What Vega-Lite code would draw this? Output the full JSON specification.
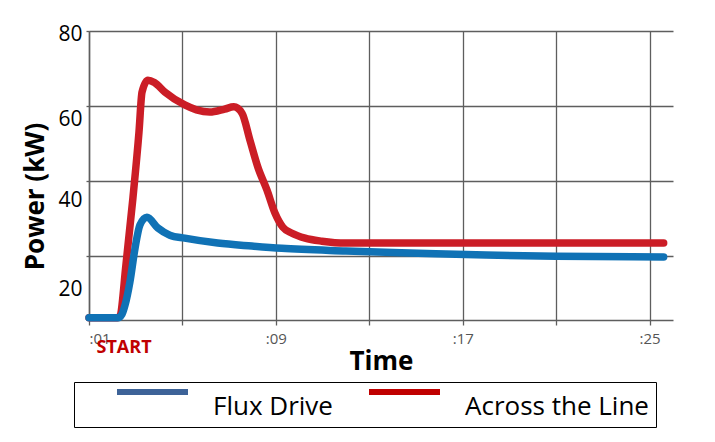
{
  "$schema": "https://vega.github.io/schema/vega-lite/v6.json",
  "width": 584,
  "height": 289,
  "autosize": "none",
  "padding": {"left": 89, "top": 31, "right": 42, "bottom": 122},
  "background": "white",
  "config": {
    "view": {"stroke": null},
    "font": "Open Sans"
  },
  "datasets": {
    "power": [
      {"time": 1, "kw": 3.6, "series": "Across the Line"},
      {"time": 2.2, "kw": 3.6, "series": "Across the Line"},
      {"time": 2.33, "kw": 4.2, "series": "Across the Line"},
      {"time": 2.58, "kw": 17.6, "series": "Across the Line"},
      {"time": 2.88, "kw": 35.5, "series": "Across the Line"},
      {"time": 3.14, "kw": 53.1, "series": "Across the Line"},
      {"time": 3.27, "kw": 63.7, "series": "Across the Line"},
      {"time": 3.52, "kw": 66.9, "series": "Across the Line"},
      {"time": 3.8, "kw": 66.3, "series": "Across the Line"},
      {"time": 4.25, "kw": 63.7, "series": "Across the Line"},
      {"time": 5.1, "kw": 60.3, "series": "Across the Line"},
      {"time": 5.6, "kw": 59.0, "series": "Across the Line"},
      {"time": 6.17, "kw": 58.4, "series": "Across the Line"},
      {"time": 6.81, "kw": 59.2, "series": "Across the Line"},
      {"time": 7.2, "kw": 59.8, "series": "Across the Line"},
      {"time": 7.55, "kw": 58.1, "series": "Across the Line"},
      {"time": 7.89, "kw": 50.9, "series": "Across the Line"},
      {"time": 8.23, "kw": 43.7, "series": "Across the Line"},
      {"time": 8.62, "kw": 37.6, "series": "Across the Line"},
      {"time": 8.96, "kw": 31.5, "series": "Across the Line"},
      {"time": 9.3, "kw": 27.7, "series": "Across the Line"},
      {"time": 9.69, "kw": 26.1, "series": "Across the Line"},
      {"time": 10.25, "kw": 24.8, "series": "Across the Line"},
      {"time": 10.97, "kw": 24.0, "series": "Across the Line"},
      {"time": 12.0, "kw": 23.5, "series": "Across the Line"},
      {"time": 25.6, "kw": 23.5, "series": "Across the Line"},
      {"time": 1, "kw": 3.6, "series": "Flux Drive"},
      {"time": 2.24, "kw": 3.6, "series": "Flux Drive"},
      {"time": 2.41, "kw": 4.5, "series": "Flux Drive"},
      {"time": 2.54, "kw": 6.9, "series": "Flux Drive"},
      {"time": 2.75, "kw": 13.1, "series": "Flux Drive"},
      {"time": 2.97, "kw": 22.1, "series": "Flux Drive"},
      {"time": 3.18, "kw": 28.3, "series": "Flux Drive"},
      {"time": 3.48, "kw": 30.4, "series": "Flux Drive"},
      {"time": 3.95, "kw": 27.5, "series": "Flux Drive"},
      {"time": 4.46, "kw": 25.6, "series": "Flux Drive"},
      {"time": 5.1, "kw": 24.8, "series": "Flux Drive"},
      {"time": 6.51, "kw": 23.5, "series": "Flux Drive"},
      {"time": 7.97, "kw": 22.7, "series": "Flux Drive"},
      {"time": 9.25, "kw": 22.1, "series": "Flux Drive"},
      {"time": 12.0, "kw": 21.4, "series": "Flux Drive"},
      {"time": 15.1, "kw": 20.8, "series": "Flux Drive"},
      {"time": 18.0, "kw": 20.3, "series": "Flux Drive"},
      {"time": 21.0, "kw": 20.0, "series": "Flux Drive"},
      {"time": 25.6, "kw": 19.8, "series": "Flux Drive"}
    ],
    "notes": [
      {"time": 2.5, "kw": -4.5, "label": "START"}
    ]
  },
  "encoding": {
    "x": {
      "field": "time",
      "type": "quantitative",
      "scale": {"domain": [1, 26], "nice": false, "zero": false},
      "axis": {
        "values": [1, 5, 9, 13, 17, 21, 25],
        "labelExpr": "(datum.value - 1) % 8 == 0 ? ':' + (datum.value < 10 ? '0' : '') + datum.value : ''",
        "labelFont": "Open Sans",
        "labelFontSize": 15,
        "labelColor": "#555555",
        "labelPadding": 6,
        "grid": true,
        "gridColor": "#5e5e5e",
        "gridWidth": 1.3,
        "domainColor": "#5e5e5e",
        "domainWidth": 1.5,
        "tickColor": "#5e5e5e",
        "tickWidth": 1.3,
        "tickSize": 5,
        "title": "Time",
        "titleFont": "Open Sans",
        "titleFontSize": 26,
        "titleFontWeight": "bold",
        "titleColor": "#000000",
        "titlePadding": 2
      }
    },
    "y": {
      "field": "kw",
      "type": "quantitative",
      "scale": {"domain": [3, 80], "nice": false, "zero": false},
      "axis": {
        "values": [20, 40, 60, 80],
        "labelFont": "Open Sans",
        "labelFontSize": 21,
        "labelColor": "#000000",
        "labelPadding": 4,
        "labelOffset": {"expr": "datum.value == 80 ? 3 : datum.value == 60 ? 13 : datum.value == 40 ? 19 : 33"},
        "grid": true,
        "gridColor": "#5e5e5e",
        "gridWidth": 1.3,
        "domainColor": "#5e5e5e",
        "domainWidth": 1.5,
        "tickColor": "#5e5e5e",
        "tickWidth": 1.3,
        "tickSize": 3,
        "title": "Power (kW)",
        "titleFont": "Open Sans",
        "titleFontSize": 26,
        "titleFontWeight": "bold",
        "titleColor": "#000000",
        "titleAngle": -90,
        "titleBaseline": "middle",
        "titleX": -54,
        "titleY": 165
      }
    }
  },
  "layer": [
    {
      "data": {"name": "power"},
      "transform": [{"filter": "datum.series == 'Across the Line'"}],
      "mark": {"type": "line", "strokeWidth": 7.5, "strokeCap": "round", "strokeJoin": "round", "interpolate": "monotone"},
      "encoding": {
        "stroke": {
          "field": "series",
          "type": "nominal",
          "scale": {"domain": ["Across the Line", "Flux Drive"], "range": ["#cb1d26", "#1072b5"]},
          "legend": null
        }
      }
    },
    {
      "data": {"name": "power"},
      "transform": [{"filter": "datum.series == 'Flux Drive'"}],
      "mark": {"type": "line", "strokeWidth": 7.5, "strokeCap": "round", "strokeJoin": "round", "interpolate": "monotone"},
      "encoding": {
        "stroke": {"field": "series", "type": "nominal", "legend": null}
      }
    },
    {
      "data": {"name": "power"},
      "transform": [{"filter": "datum.kw > 1000"}],
      "mark": {"type": "line", "strokeWidth": 6},
      "encoding": {
        "color": {
          "field": "series",
          "type": "nominal",
          "scale": {"domain": ["Flux Drive", "Across the Line"], "range": ["#3d6398", "#c00000"]},
          "legend": {
            "orient": "none",
            "legendX": -15,
            "legendY": 351,
            "direction": "horizontal",
            "columns": 2,
            "title": null,
            "symbolType": "stroke",
            "symbolSize": 5041,
            "symbolStrokeWidth": 6,
            "symbolOffset": 33,
            "labelOffset": 22,
            "labelFont": "Open Sans",
            "labelFontSize": 26,
            "labelColor": "#000000",
            "labelBaseline": "middle",
            "columnPadding": -6,
            "padding": 7,
            "strokeColor": "#000000",
            "labelLimit": 500,
            "encode": {
              "symbols": {
                "update": {
                  "y": {"value": 3}
                }
              },
              "labels": {
                "update": {
                  "y": {"value": 18}
                }
              }
            }
          }
        }
      }
    },
    {
      "data": {"name": "notes"},
      "mark": {"type": "text", "font": "Open Sans", "fontSize": 18, "fontWeight": "bold", "color": "#c00000", "align": "center", "baseline": "middle"},
      "encoding": {
        "text": {"field": "label", "type": "nominal"}
      }
    }
  ]
}
